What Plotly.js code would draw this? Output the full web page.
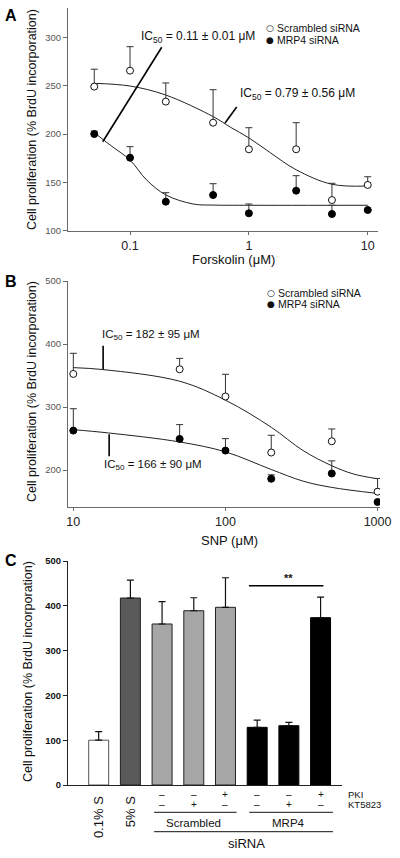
<!DOCTYPE html>
<html>
<head>
<meta charset="utf-8">
<script src="https://cdn.plot.ly/plotly-3.0.1.min.js"></script>
<style>html,body{margin:0;padding:0;background:#fff}#chart{width:400px;height:858px}</style>
</head>
<body>
<div id="chart"></div>
<script>
// ---------- DATA ----------
// Panel A: Forskolin
var forskolinX = [0.05, 0.1, 0.2, 0.5, 1, 2.5, 5, 10];
var aScrambled = [249, 265.5, 233.5, 211.7, 184.2, 184.2, 131.7, 147.3];
var aScrambledErr = [18, 24.8, 19.3, 34.1, 22.3, 27.5, 17.3, 8.5];
var aMrp4 = [200, 175.5, 130, 136.9, 118, 141.4, 117.3, 121.4];
var aMrp4Err = [3, 11.4, 9.3, 11.7, 9.6, 15.5, 9, 0];
var aScrFitX = [0.05, 0.1, 0.2, 0.5, 0.7, 1, 1.5, 2.5, 5, 10];
var aScrFitY = [252.4, 249.6, 240.3, 218, 207, 196, 181, 163, 148, 146.2];
var aMrpFitX = [0.05, 0.068, 0.1, 0.138, 0.2, 0.34, 0.5, 1, 10];
var aMrpFitY = [201.4, 188.6, 173, 152.4, 137, 127.6, 126.5, 126.3, 126.3];
var aIc50Labels = ['IC<sub>50</sub> = 0.11 ± 0.01 μM', 'IC<sub>50</sub> = 0.79 ± 0.56 μM'];
var aLeader1X = [0.0589, 0.1848], aLeader1Y = [192, 289.7];
var aLeader2X = [0.63, 0.79], aLeader2Y = [211.4, 228];
var aYTicks = [100, 150, 200, 250, 300];
var aXTicks = [0.1, 1, 10];
var aXTickText = ['0.1', '1', '10'];

// Panel B: SNP
var snpX = [10, 50, 100, 200, 500, 1000];
var bScrambled = [352.6, 360, 316.8, 227.9, 245.8, 165.8];
var bScrambledErr = [32.7, 17.3, 35.2, 27.4, 19.5, 21];
var bMrp4 = [262.7, 249.5, 231, 186.3, 194.7, 149.5];
var bMrp4Err = [34.7, 22.7, 19, 6.3, 20, 2];
var bScrFitX = [10, 15.7, 50, 100, 200, 324, 500, 692, 1000];
var bScrFitY = [362.6, 359.5, 341, 311, 268, 231, 207, 194, 186.3];
var bMrpFitX = [10, 17, 50, 100, 200, 324, 500, 1000];
var bMrpFitY = [264.2, 259, 244.7, 229, 201, 182.5, 172.6, 163];
var bIc50Labels = ['IC<sub>50</sub> = 182 ± 95 μM', 'IC<sub>50</sub> = 166 ± 90 μM'];
var bLeader1X = [15.7, 15.7], bLeader1Y = [397.4, 359.5];
var bLeader2X = [17.2, 17.2], bLeader2Y = [256.8, 222];
var bYTicks = [200, 300, 400, 500];
var bXTicks = [10, 100, 1000];
var bXTickText = ['10', '100', '1000'];

// Panel C: bars
var cCategories = [0, 1, 2, 3, 4, 5, 6, 7];
var cCatLabels = ['0.1% S', '5% S'];
var cValues = [100, 417.4, 359.4, 389, 396.6, 128.7, 132.4, 373.5];
var cErr = [19, 40, 50, 29, 66, 16.3, 7.6, 46];
var cPKI = ['–', '–', '+', '–', '–', '+'];
var cKT = ['–', '+', '–', '–', '+', '–'];
var cGroups = ['Scrambled', 'MRP4'];
var cYTicks = [0, 100, 200, 300, 400, 500];
var cSigY = 444.6;

var seriesNames = ['Scrambled siRNA', 'MRP4 siRNA'];

// ---------- STYLE ----------
var W = 400, H = 858;
function px(x) { return x / W; }
function py(y) { return 1 - y / H; }
var FONT = 'Liberation Sans, Arial, Helvetica, sans-serif';
var cFill = ['#ffffff', '#595959', '#a6a6a6', '#a6a6a6', '#a6a6a6', '#000000', '#000000', '#000000'];
var cLine = ['#555555', '#222222', '#222222', '#222222', '#222222', '#000000', '#000000', '#000000'];
function zeros(a) { return a.map(function () { return 0; }); }
function errY(err, col) {
  return {type: 'data', array: err, arrayminus: zeros(err), symmetric: false,
          color: col || '#333', thickness: 1, width: 3.5};
}
var openMarker = {symbol: 'circle', size: 7, color: '#ffffff', line: {color: '#111', width: 1}};
var fillMarker = {symbol: 'circle', size: 7, color: '#000000', line: {color: '#000', width: 1}};
var fitLine = {color: '#222', width: 1, shape: 'spline'};
var leaderLine = {color: '#000', width: 1.6};

var traces = [
  // Panel A
  {x: aScrFitX, y: aScrFitY, mode: 'lines', line: fitLine, xaxis: 'x', yaxis: 'y', hoverinfo: 'skip'},
  {x: aMrpFitX, y: aMrpFitY, mode: 'lines', line: fitLine, xaxis: 'x', yaxis: 'y', hoverinfo: 'skip'},
  {x: aLeader1X, y: aLeader1Y, mode: 'lines', line: leaderLine, xaxis: 'x', yaxis: 'y', hoverinfo: 'skip'},
  {x: aLeader2X, y: aLeader2Y, mode: 'lines', line: leaderLine, xaxis: 'x', yaxis: 'y', hoverinfo: 'skip'},
  {x: forskolinX, y: aScrambled, name: seriesNames[0], mode: 'markers', marker: openMarker,
   error_y: errY(aScrambledErr), xaxis: 'x', yaxis: 'y'},
  {x: forskolinX, y: aMrp4, name: seriesNames[1], mode: 'markers', marker: fillMarker,
   error_y: errY(aMrp4Err), xaxis: 'x', yaxis: 'y'},
  // Panel B
  {x: bScrFitX, y: bScrFitY, mode: 'lines', line: fitLine, xaxis: 'x2', yaxis: 'y2', hoverinfo: 'skip'},
  {x: bMrpFitX, y: bMrpFitY, mode: 'lines', line: fitLine, xaxis: 'x2', yaxis: 'y2', hoverinfo: 'skip'},
  {x: bLeader1X, y: bLeader1Y, mode: 'lines', line: leaderLine, xaxis: 'x2', yaxis: 'y2', hoverinfo: 'skip'},
  {x: bLeader2X, y: bLeader2Y, mode: 'lines', line: leaderLine, xaxis: 'x2', yaxis: 'y2', hoverinfo: 'skip'},
  {x: snpX, y: bScrambled, name: seriesNames[0], mode: 'markers', marker: openMarker,
   error_y: errY(bScrambledErr), xaxis: 'x2', yaxis: 'y2'},
  {x: snpX, y: bMrp4, name: seriesNames[1], mode: 'markers', marker: fillMarker,
   error_y: errY(bMrp4Err), xaxis: 'x2', yaxis: 'y2'},
  // Panel C
  {type: 'bar', x: cCategories, y: cValues, width: 0.63,
   marker: {color: cFill, line: {color: cLine, width: 1}},
   error_y: {type: 'data', array: cErr, arrayminus: zeros(cErr), symmetric: false,
             color: '#111', thickness: 1.2, width: 3.5},
   xaxis: 'x3', yaxis: 'y3'},
  {x: [4.74, 7.09], y: [cSigY, cSigY], mode: 'lines', line: {color: '#000', width: 1.5},
   xaxis: 'x3', yaxis: 'y3', hoverinfo: 'skip'}
];

var abAxisCol = '#6a6a6a';
var tickGray = {family: FONT, size: 9.5, color: '#555'};
var xTickFont = {family: FONT, size: 12.5, color: '#222'};

function logX(domain, range, vals, text, anchor) {
  return {domain: domain, type: 'log', range: range, tickvals: vals, ticktext: text,
          ticks: 'outside', ticklen: 3, tickcolor: abAxisCol, showline: true, linecolor: abAxisCol,
          linewidth: 1, showgrid: false, zeroline: false, tickfont: xTickFont, anchor: anchor, fixedrange: true};
}
function linY(domain, range, vals, anchor, font, col) {
  return {domain: domain, range: range, tickvals: vals, ticks: 'outside', ticklen: 4,
          tickcolor: col, showline: true, linecolor: col, linewidth: 1, showgrid: false,
          zeroline: false, tickfont: font, anchor: anchor, fixedrange: true};
}

var layout = {
  width: W, height: H, margin: {l: 0, r: 0, t: 0, b: 0, pad: 0},
  paper_bgcolor: '#fff', plot_bgcolor: 'rgba(0,0,0,0)', showlegend: false,
  font: {family: FONT, color: '#111'},
  xaxis: logX([px(68), px(378.3)], [-1.522, 1.089], aXTicks, aXTickText, 'y'),
  yaxis: linY([py(230.7), py(8)], [100, 330.3], aYTicks, 'x', tickGray, abAxisCol),
  xaxis2: logX([px(68), px(380)], [0.965, 3.016], bXTicks, bXTickText, 'y2'),
  yaxis2: linY([py(506.7), py(281)], [142, 500], bYTicks, 'x2', tickGray, abAxisCol),
  xaxis3: {domain: [px(68), px(341.5)], range: [-0.968, 7.66], tickvals: [0, 1], ticktext: cCatLabels,
           tickangle: -90, ticks: 'outside', ticklen: 5, tickcolor: 'rgba(0,0,0,0)', showline: true,
           linecolor: '#222', linewidth: 1, showgrid: false, zeroline: false,
           tickfont: {family: FONT, size: 13, color: '#111'}, anchor: 'y3', fixedrange: true},
  yaxis3: linY([py(785), py(561)], [0, 500], cYTicks, 'x3',
               {family: FONT, size: 9.5, color: '#111', weight: 'bold'}, '#222'),
  annotations: [],
  shapes: []
};

var ann = layout.annotations;
function addText(text, x, y, opts) {
  var a = {text: text, x: px(x), y: py(y), xref: 'paper', yref: 'paper', showarrow: false,
           xanchor: 'left', yanchor: 'middle', font: {family: FONT, size: 12, color: '#111'}};
  for (var k in opts) a[k] = opts[k];
  ann.push(a);
}
var yTitle = 'Cell proliferation (% BrdU incorporation)';
// panel letters
addText('<b>A</b>', 3, 15, {font: {family: FONT, size: 16, color: '#000'}});
addText('<b>B</b>', 3, 281, {font: {family: FONT, size: 16, color: '#000'}});
addText('<b>C</b>', 3, 560, {font: {family: FONT, size: 16, color: '#000'}});
// y titles
addText(yTitle, 32, 120, {textangle: -90, xanchor: 'center', font: {family: FONT, size: 12.5, color: '#111'}});
addText(yTitle, 32, 392, {textangle: -90, xanchor: 'center', font: {family: FONT, size: 12.5, color: '#111'}});
addText(yTitle, 28, 672, {textangle: -90, xanchor: 'center', font: {family: FONT, size: 12.5, color: '#111'}});
// x titles
addText('Forskolin (μM)', 233, 260, {xanchor: 'center', font: {family: FONT, size: 13, color: '#111'}});
addText('SNP (μM)', 230, 540, {xanchor: 'center', font: {family: FONT, size: 13, color: '#111'}});
// IC50 labels
addText(aIc50Labels[0], 139, 37, {font: {family: FONT, size: 12, color: '#111'}});
addText(aIc50Labels[1], 238, 94, {font: {family: FONT, size: 12, color: '#111'}});
addText(bIc50Labels[0], 100, 335, {font: {family: FONT, size: 11.5, color: '#111'}});
addText(bIc50Labels[1], 101.5, 465, {font: {family: FONT, size: 11.5, color: '#111'}});
// legends
var legFont = {family: FONT, size: 10.5, color: '#111'};
var symFont = {family: 'DejaVu Sans, sans-serif', size: 9, color: '#111'};
addText('○', 269.5, 28.3, {xanchor: 'center', font: symFont});
addText(seriesNames[0], 274.5, 28.3, {font: legFont});
addText('●', 269.5, 40, {xanchor: 'center', font: symFont});
addText(seriesNames[1], 274.5, 40, {font: legFont});
addText('○', 271, 292.7, {xanchor: 'center', font: symFont});
addText(seriesNames[0], 276, 292.7, {font: legFont});
addText('●', 271, 304, {xanchor: 'center', font: symFont});
addText(seriesNames[1], 276, 304, {font: legFont});
// panel C bottom labels
var symRowFont = {family: FONT, size: 10, color: '#111'};
for (var i = 0; i < cPKI.length; i++) {
  ann.push({text: cPKI[i], x: cCategories[i + 2], y: py(794), xref: 'x3', yref: 'paper', showarrow: false,
            xanchor: 'center', yanchor: 'middle', font: symRowFont});
  ann.push({text: cKT[i], x: cCategories[i + 2], y: py(804), xref: 'x3', yref: 'paper', showarrow: false,
            xanchor: 'center', yanchor: 'middle', font: symRowFont});
}
addText('PKI', 346, 794, {font: {family: FONT, size: 9.5, color: '#111'}});
addText('KT5823', 346, 804, {font: {family: FONT, size: 9.5, color: '#111'}});
ann.push({text: cGroups[0], x: 3, y: py(822.7), xref: 'x3', yref: 'paper', showarrow: false,
          xanchor: 'center', yanchor: 'middle', font: {family: FONT, size: 11.5, color: '#111'}});
ann.push({text: cGroups[1], x: 6, y: py(822.7), xref: 'x3', yref: 'paper', showarrow: false,
          xanchor: 'center', yanchor: 'middle', font: {family: FONT, size: 11.5, color: '#111'}});
ann.push({text: 'siRNA', x: 4.66, y: py(843.3), xref: 'x3', yref: 'paper', showarrow: false,
          xanchor: 'center', yanchor: 'middle', font: {family: FONT, size: 13, color: '#111'}});
ann.push({text: '<b>**</b>', x: 5.98, y: 461, xref: 'x3', yref: 'y3', showarrow: false,
          xanchor: 'center', yanchor: 'middle', font: {family: FONT, size: 11, color: '#111'}});
// group lines
function hline(x0, x1, y) {
  layout.shapes.push({type: 'line', xref: 'x3', yref: 'paper', x0: x0, x1: x1, y0: py(y), y1: py(y),
                      line: {color: '#111', width: 1}});
}
hline(1.75, 4.35, 812.3);
hline(4.75, 7.39, 812.3);
hline(1.75, 7.39, 831.7);

Plotly.newPlot('chart', traces, layout, {staticPlot: true, displayModeBar: false});
</script>
</body>
</html>
